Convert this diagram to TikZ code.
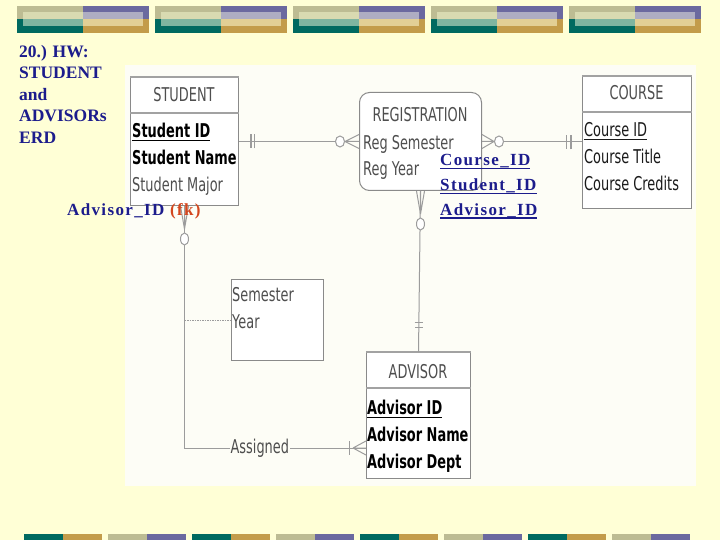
\documentclass[tikz,border=0pt]{standalone}
\usepackage{fontspec}
\setmainfont{Liberation Serif}
\newfontfamily\erdfont[FakeStretch=0.68]{DejaVu Sans}
\usetikzlibrary{positioning}

\definecolor{slide}{HTML}{FFFFD6}
\definecolor{panel}{HTML}{FDFDF6}
\definecolor{navy}{HTML}{1C1C8C}
\definecolor{fkred}{HTML}{D4461E}
\definecolor{oliveD}{HTML}{BDBC93}
\definecolor{oliveL}{HTML}{D9DAB1}
\definecolor{purp}{HTML}{6B699F}
\definecolor{purpL}{HTML}{AEADC2}
\definecolor{tealD}{HTML}{006A60}
\definecolor{tealL}{HTML}{7FB5A0}
\definecolor{gold}{HTML}{C39C4A}
\definecolor{goldL}{HTML}{E2CF95}
\definecolor{boxgray}{HTML}{8A8A8A}
\definecolor{hdrgray}{HTML}{A2A2A2}
\definecolor{linegray}{HTML}{9C9C9C}
\definecolor{ttlgray}{HTML}{4E4E4E}
\definecolor{attdark}{HTML}{1A1A1A}

\newcommand{\uln}[1]{\setbox0\hbox{#1}\rlap{\rule[-3.5pt]{\wd0}{1.2pt}}\box0}

\begin{document}
\begin{tikzpicture}[x=1pt,y=-1pt,
 ent/.style={draw=boxgray,line width=1pt,fill=white,inner sep=0pt,anchor=north west},
 hdr/.style={draw=hdrgray,line width=2.5pt},
 ttl/.style={font=\erdfont\fontsize{19}{22}\selectfont,text=ttlgray,inner sep=0pt,anchor=base},
 att/.style={font=\erdfont\fontsize{19}{22}\selectfont,text=ttlgray,inner sep=0pt,anchor=base west},
 pk/.style={att,font=\erdfont\fontsize{19}{22}\selectfont\bfseries,text=black},
 lbl/.style={font=\erdfont\fontsize{19}{22}\selectfont,text=ttlgray,fill=panel,inner xsep=0.5pt,inner ysep=0pt,anchor=base,yshift=-5pt},
 rel/.style={draw=linegray,line width=1pt},
 relw/.style={draw=linegray,line width=1.8pt},
 hw/.style={font=\fontsize{17.5}{21.5}\selectfont\bfseries,text=navy,inner sep=0pt},
 fkey/.style={hw,font=\fontsize{17}{21.5}\selectfont\bfseries\addfontfeature{LetterSpace=8},anchor=base west}]
\fill[slide] (0,0) rectangle (720,540);
\foreach \x in {17,155,293,431,569} {
 \fill[oliveD] (\x,6) rectangle ++(66,13.5);
 \fill[purp] (\x+66,6) rectangle ++(66,13.5);
 \fill[tealD] (\x,19.5) rectangle ++(66,13.5);
 \fill[gold] (\x+66,19.5) rectangle ++(66,13.5);
 \fill[oliveL] (\x+6,12) rectangle (\x+66,19.5);
 \fill[purpL] (\x+66,12) rectangle (\x+126,19.5);
 \fill[tealL] (\x+6,19.5) rectangle (\x+66,26);
 \fill[goldL] (\x+66,19.5) rectangle (\x+126,26);
}
\foreach \x in {24,192,360,528} {
 \fill[tealD] (\x,534) rectangle ++(39,6);
 \fill[gold] (\x+39,534) rectangle ++(39,6);
}
\foreach \x in {108,276,444,612} {
 \fill[oliveD] (\x,534) rectangle ++(39,6);
 \fill[purp] (\x+39,534) rectangle ++(39,6);
}
\fill[panel] (125,65) rectangle (696,486);

\node[ent,minimum width=108,minimum height=128] (student) at (130,77) {};
\draw[hdr,line width=2pt] (student.north west) -- (student.north east);
\draw[hdr] ([yshift=-36pt]student.north west) -- ([yshift=-36pt]student.north east);
\node[ttl] (studentT) at (184,102) {STUDENT};
\node[pk] (sid) at (132,137.5) {\uln{Student ID}};
\node[pk] (sname) at (132,165) {Student Name};
\node[att] (smajor) at (132,192) {Student Major};

\node[ent,rounded corners=10pt,minimum width=122,minimum height=98] (registration) at (359,92) {};
\node[ttl] (registrationT) at (420,122) {REGISTRATION};
\node[att] (rsem) at (363,149.5) {Reg Semester};
\node[att] (ryear) at (363,176) {Reg Year};

\node[ent,minimum width=109,minimum height=132] (course) at (582,76) {};
\draw[hdr,line width=2pt] (course.north west) -- (course.north east);
\draw[hdr] ([yshift=-36pt]course.north west) -- ([yshift=-36pt]course.north east);
\node[ttl] (courseT) at (636.5,100) {COURSE};
\node[att,text=attdark] (cid) at (584,137) {\uln{Course ID}};
\node[att,text=attdark] (ctitle) at (584,163.5) {Course Title};
\node[att,text=attdark] (ccred) at (584,190.5) {Course Credits};

\node[ent,minimum width=104,minimum height=126] (advisor) at (366,352) {};
\draw[hdr,line width=2pt] (advisor.north west) -- (advisor.north east);
\draw[hdr] ([yshift=-36pt]advisor.north west) -- ([yshift=-36pt]advisor.north east);
\node[ttl] (advisorT) at (418,378) {ADVISOR};
\node[pk] (aid) at (367,414.5) {\uln{Advisor ID}};
\node[pk] (aname) at (367,441.5) {Advisor Name};
\node[pk] (adept) at (367,468) {Advisor Dept};

\node[ent,minimum width=92,minimum height=81] (semester) at (231,279) {};
\node[att] (ssem) at (232,301.5) {Semester};
\node[att] (syear) at (232,328) {Year};

\coordinate (asg) at ([yshift=31pt]advisor.south west);

\draw[relw] (student.east) -- (registration.west);
\draw[relw] (student.east) ++(12,-7) -- ++(0,14) ++(3.5,0) -- ++(0,-14);
\draw[rel] (registration.west) ++(-14,0) -- ++(14,-7) ++(-14,7) -- ++(14,0) ++(-14,0) -- ++(14,7);
\draw[rel,fill=white] (registration.west) ++(-19,0) ellipse[x radius=4.5pt,y radius=5.5pt];

\draw[relw] (registration.east) -- (registration.east -| course.west);
\draw[rel] (registration.east) ++(12,0) -- ++(-12,-7) ++(12,7) -- ++(-12,0) ++(12,0) -- ++(-12,7);
\draw[rel,fill=white] (registration.east) ++(17,0) ellipse[x radius=4.5pt,y radius=5.5pt];
\draw[relw] (course.west) ++(-15.5,-7) -- ++(0,14) ++(4.5,0) -- ++(0,-14);

\draw[rel] (registration.south) -- (advisor.north);
\draw[rel] (registration.south) ++(0,23) -- ++(-4,-23) ++(4,23) -- ++(0,-23) ++(0,23) -- ++(4,-23);
\draw[rel,fill=white] (registration.south) ++(0,33) ellipse[x radius=4pt,y radius=6pt];
\draw[rel] (advisor.north) ++(-4,-30) -- ++(8,0) ++(0,5) -- ++(-8,0);

\draw[rel] (student.south) -- (student.south |- asg) -- node[lbl,pos=0.415] (asgT) {Assigned} (asg);
\draw[rel] (student.south) ++(0,23) -- ++(-4,-23) ++(4,23) -- ++(0,-23) ++(0,23) -- ++(4,-23);
\draw[rel,fill=white] (student.south) ++(0,33) ellipse[x radius=4pt,y radius=6pt];
\draw[rel] (asg) ++(-17,-7) -- ++(0,14);
\draw[rel] (asg) ++(-13,0) -- ++(13,-7) ++(-13,7) -- ++(13,0) ++(-13,0) -- ++(13,7);

\draw[rel,dash pattern=on 1.5pt off 1pt] (semester.west -| student.south) -- (semester.west);

\node[hw,anchor=north west,align=left] (hwtitle) at (19,45) {20.) HW:\\STUDENT\\and\\ADVISORs\\ERD};
\node[fkey] (fkref) at (67,215) {Advisor\_ID \textcolor{fkred}{(fk)}};
\node[fkey] (keyc) at (440,166) {\uln{Course\_ID}};
\node[fkey] (keys) at (440,190.5) {\uln{Student\_ID}};
\node[fkey] (keya) at (440,215) {\uln{Advisor\_ID}};
\end{tikzpicture}
\end{document}
